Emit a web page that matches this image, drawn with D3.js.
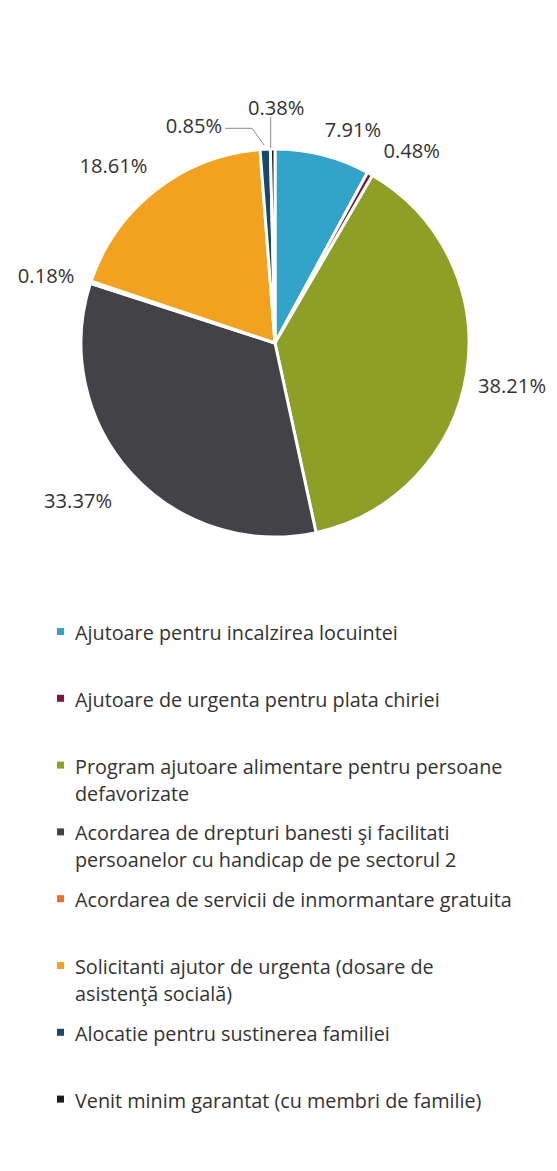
<!DOCTYPE html>
<html>
<head>
<meta charset="utf-8">
<script src="https://cdn.jsdelivr.net/npm/d3@7"></script>
<style>
  html, body { margin: 0; padding: 0; background: #ffffff; }
  svg { display: block; }
  text { font-family: "Open Sans", Lato, sans-serif; fill: #333333; }
</style>
</head>
<body>
<svg id="chart" width="557" height="1171"></svg>
<script>
// ---- data ----
const categories = [
  "Ajutoare pentru incalzirea locuintei",
  "Ajutoare de urgenta pentru plata chiriei",
  "Program ajutoare alimentare pentru persoane defavorizate",
  "Acordarea de drepturi banesti şi facilitati persoanelor cu handicap de pe sectorul 2",
  "Acordarea de servicii de inmormantare gratuita",
  "Solicitanti ajutor de urgenta (dosare de asistenţă socială)",
  "Alocatie pentru sustinerea familiei",
  "Venit minim garantat (cu membri de familie)"
];
const values = [7.91, 0.48, 38.21, 33.37, 0.18, 18.61, 0.85, 0.38];
const valueLabels = ["7.91%", "0.48%", "38.21%", "33.37%", "0.18%", "18.61%", "0.85%", "0.38%"];
const colors = ["#33A4C9", "#7A1838", "#8E9F26", "#434247", "#E8702A", "#F3A21F", "#17466E", "#1E1A1A"];

// ---- layout ----
const svg = d3.select("#chart");
const cx = 275, cy = 343, R = 194;

// fit font sizes to the reference's measured text widths
function measure(str, size) {
  const t = svg.append("text").style("font-size", size + "px").text(str);
  const w = t.node().getComputedTextLength();
  t.remove();
  return w;
}
const legendSize = 100 * 323 / measure(categories[0], 100);
const labelSize = 100 * 68 / measure(valueLabels[2], 100);

const data = categories.map((c, i) => ({ cat: c, value: values[i], label: valueLabels[i], color: colors[i] }));

const pie = d3.pie().sort(null).value(d => d.value);
const arcs = pie(data);
const arc = d3.arc().innerRadius(0).outerRadius(R);
const labelArc = d3.arc().innerRadius(240).outerRadius(240);

const g = svg.append("g").attr("transform", `translate(${cx},${cy})`);

g.selectAll("path.slice")
  .data(arcs)
  .enter().append("path")
  .attr("class", "slice")
  .attr("d", arc)
  .attr("fill", d => d.data.color)
  .attr("stroke", "#ffffff")
  .attr("stroke-width", 3)
  .attr("stroke-linejoin", "round");

// label nudges (pixel offsets from the outer label arc) for crowded slices
const nudges = {
  0: [19, 19],
  1: [19, 16],
  2: [0, 4],
  3: [-19, -4],
  4: [-1, 7],
  5: [-14, 11],
  6: [-69, 22],
  7: [4, 4]
};

const labelPos = arcs.map((a, i) => {
  const [x, y] = labelArc.centroid(a);
  const n = nudges[i] || [0, 0];
  return [x + n[0], y + n[1]];
});

// leader lines for the two tiny top slices
[6, 7].forEach(i => {
  const a = arcs[i];
  const mid = (a.startAngle + a.endAngle) / 2;
  const edge = [R * Math.sin(mid), -R * Math.cos(mid)];
  const lp = labelPos[i];
  let pts;
  if (i === 6) {
    const lx = lp[0] + measure(valueLabels[i], labelSize) / 2 + 3;
    pts = [[lx, lp[1] + 3], [lx + 27, lp[1] + 3], [edge[0] - 1, edge[1] - 4]];
  } else {
    pts = [[edge[0] - 2, lp[1] + 10], [edge[0] - 2, edge[1] - 1]];
  }
  g.append("path")
    .attr("d", d3.line()(pts))
    .attr("fill", "none")
    .attr("stroke", "#8a8a8a")
    .attr("stroke-width", 1);
});

g.selectAll("text.vlabel")
  .data(arcs)
  .enter().append("text")
  .attr("class", "vlabel")
  .attr("x", (d, i) => labelPos[i][0])
  .attr("y", (d, i) => labelPos[i][1])
  .attr("text-anchor", "middle")
  .attr("dominant-baseline", "central")
  .style("font-size", labelSize + "px")
  .text(d => d.data.label);

// ---- legend ----
const legendX = 75, legendTop = 640, legendStep = 66.8, lineH = 27, wrapW = 442;
const legend = svg.append("g");

function wrapWords(text, maxW, size) {
  const words = text.split(" ");
  const lines = [];
  let cur = "";
  words.forEach(w => {
    const test = cur ? cur + " " + w : w;
    if (measure(test, size) > maxW && cur) {
      lines.push(cur);
      cur = w;
    } else {
      cur = test;
    }
  });
  if (cur) lines.push(cur);
  return lines;
}

data.forEach((d, i) => {
  const y0 = legendTop + i * legendStep;
  legend.append("rect")
    .attr("x", 57).attr("y", y0 - 12)
    .attr("width", 7).attr("height", 7)
    .attr("fill", d.color);
  const lines = wrapWords(d.cat, wrapW, legendSize);
  const t = legend.append("text")
    .attr("x", legendX).attr("y", y0)
    .style("font-size", legendSize + "px");
  lines.forEach((ln, k) => {
    t.append("tspan").attr("x", legendX).attr("y", y0 + k * lineH).text(ln);
  });
});
</script>
</body>
</html>
